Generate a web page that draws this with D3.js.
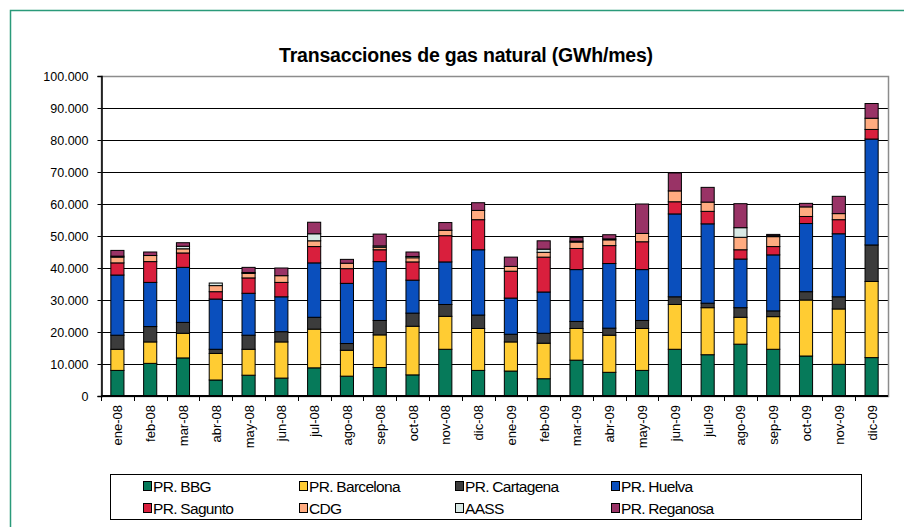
<!DOCTYPE html>
<html>
<head>
<meta charset="utf-8">
<script src="https://cdn.jsdelivr.net/npm/d3@7"></script>
<style>
  body { margin: 0; background: #fff; }
  svg { display: block; font-family: "Liberation Sans", Arial, sans-serif; }
</style>
</head>
<body>
<svg id="chart" width="904" height="527"></svg>
<script>
// months shown on the x axis
const months = ['ene-08', 'feb-08', 'mar-08', 'abr-08', 'may-08', 'jun-08', 'jul-08', 'ago-08',
  'sep-08', 'oct-08', 'nov-08', 'dic-08', 'ene-09', 'feb-09', 'mar-09', 'abr-09', 'may-09',
  'jun-09', 'jul-09', 'ago-09', 'sep-09', 'oct-09', 'nov-09', 'dic-09'];

const seriesNames = ['PR. BBG', 'PR. Barcelona', 'PR. Cartagena', 'PR. Huelva',
  'PR. Sagunto', 'CDG', 'AASS', 'PR. Reganosa'];

// GWh/mes
const bbg = [8000, 10200, 11900, 5000, 6500, 5600, 8800, 6200, 8900, 6600, 14600, 8000,
  7800, 5400, 11200, 7400, 8000, 14600, 12900, 16200, 14600, 12500, 9900, 12000];
const barcelona = [6600, 6700, 7700, 8300, 8100, 11300, 12100, 8100, 10200, 15200, 10300, 13100,
  9100, 11100, 9900, 11600, 13100, 14000, 14700, 8400, 10200, 17500, 17300, 23800];
const cartagena = [4400, 4800, 3400, 1300, 4400, 3200, 3700, 2100, 4500, 4100, 3700, 4200,
  2400, 3100, 2200, 2200, 2500, 2400, 1400, 3000, 1800, 2600, 3800, 11400];
const huelva = [18800, 13800, 17200, 15700, 13100, 10900, 17000, 18800, 18400, 10300, 13300, 20400,
  11300, 12900, 16200, 20200, 15900, 25900, 24800, 15200, 17500, 21300, 19700, 33100];
const sagunto = [3800, 6500, 4500, 2300, 4800, 4500, 5100, 4600, 3700, 5700, 8200, 9400,
  8400, 10900, 6600, 5600, 8700, 3800, 3900, 2900, 2600, 2200, 4400, 3000];
const cdg = [1800, 1900, 1300, 1900, 1400, 2100, 1800, 1700, 800, 1300, 1700, 2900,
  1500, 1500, 2000, 1800, 2600, 3400, 2900, 3900, 3100, 3000, 1900, 3500];
const aass = [300, 0, 800, 800, 300, 0, 2200, 0, 400, 400, 0, 0,
  0, 1000, 300, 300, 0, 0, 0, 3000, 300, 0, 0, 0];
const reganosa = [1800, 1100, 1100, 0, 1600, 2400, 3600, 1200, 3700, 1400, 2400, 2400,
  2900, 2600, 1100, 1300, 9200, 5600, 4600, 7500, 400, 1100, 5400, 4600];

const yTicks = [0, 10000, 20000, 30000, 40000, 50000, 60000, 70000, 80000, 90000, 100000];

const colors = ['#067a5a', '#ffcc33', '#3c3c3c', '#0a4fbd', '#d91f3d', '#ffab80', '#d8e9e5', '#993366'];

const allSeries = [bbg, barcelona, cartagena, huelva, sagunto, cdg, aass, reganosa];

const svg = d3.select('#chart');

// outer frame (only top and left edges are in view)
svg.append('path')
  .attr('d', 'M10.5,527 V10.5 H904')
  .attr('fill', 'none')
  .attr('stroke', '#2a9a7a')
  .attr('stroke-width', 1.5);

const margin = { top: 76, right: 16, bottom: 131, left: 101 };
const width = 904, height = 527;

const x = d3.scaleBand()
  .domain(months)
  .range([margin.left, width - margin.right])
  .paddingInner(0.6)
  .paddingOuter(0.3);

const y = d3.scaleLinear()
  .domain([0, 100000])
  .range([height - margin.bottom, margin.top]);

// title
svg.append('text')
  .attr('x', 466)
  .attr('y', 62)
  .attr('text-anchor', 'middle')
  .attr('font-size', 19.5)
  .attr('font-weight', 'bold')
  .attr('letter-spacing', -0.2)
  .text('Transacciones de gas natural (GWh/mes)');

// gridlines
svg.append('g')
  .selectAll('line')
  .data(yTicks.slice(1, -1))
  .enter().append('line')
  .attr('x1', margin.left)
  .attr('x2', width - margin.right)
  .attr('y1', d => Math.round(y(d)) + 0.5)
  .attr('y2', d => Math.round(y(d)) + 0.5)
  .attr('stroke', '#000')
  .attr('stroke-width', 1);

// plot area border
svg.append('rect')
  .attr('x', margin.left + 0.5)
  .attr('y', margin.top + 0.5)
  .attr('width', width - margin.right - margin.left)
  .attr('height', y(0) - margin.top)
  .attr('fill', 'none')
  .attr('stroke', '#8c8c8c')
  .attr('stroke-width', 1.5);

// stacked bars
const rows = months.map((m, i) => {
  const row = { month: m };
  seriesNames.forEach((s, k) => { row[s] = allSeries[k][i]; });
  return row;
});
const stacked = d3.stack().keys(seriesNames)(rows);

svg.append('g')
  .selectAll('g')
  .data(stacked)
  .enter().append('g')
  .attr('fill', (d, k) => colors[k])
  .selectAll('rect')
  .data(d => d.filter(p => p[1] - p[0] > 0))
  .enter().append('rect')
  .attr('x', d => x(d.data.month))
  .attr('width', x.bandwidth())
  .attr('y', d => y(d[1]))
  .attr('height', d => y(d[0]) - y(d[1]))
  .attr('stroke', '#000')
  .attr('stroke-width', 1);

// y axis
const yAxis = d3.axisLeft(y)
  .tickValues(yTicks)
  .tickSize(4)
  .tickPadding(9)
  .tickFormat(d => d3.format(',')(d).replace(/,/g, '.'));

const yAxisG = svg.append('g')
  .attr('transform', `translate(${margin.left + 0.5},0)`)
  .call(yAxis);
yAxisG.select('.domain').attr('stroke', '#000').attr('stroke-width', 1.5);
yAxisG.selectAll('text').attr('font-size', 12.5).attr('fill', '#000')
  .attr('font-family', '"Liberation Sans", Arial, sans-serif');

// x axis: ticks sit between categories
const xAxisG = svg.append('g')
  .attr('transform', `translate(0,${y(0)})`);
xAxisG.append('line')
  .attr('x1', margin.left)
  .attr('x2', width - margin.right)
  .attr('stroke', '#000')
  .attr('stroke-width', 2);
xAxisG.selectAll('.tick')
  .data(months)
  .enter().append('line')
  .attr('x1', (d, i) => Math.round(margin.left + x.step() * i) + 0.5)
  .attr('x2', (d, i) => Math.round(margin.left + x.step() * i) + 0.5)
  .attr('y1', 0)
  .attr('y2', 5)
  .attr('stroke', '#000');
xAxisG.selectAll('text')
  .data(months)
  .enter().append('text')
  .attr('transform', d => `translate(${x(d) + x.bandwidth() / 2 + 5},9) rotate(-90)`)
  .attr('text-anchor', 'end')
  .attr('font-size', 13)
  .text(d => d);

// legend
const legend = svg.append('g');
legend.append('rect')
  .attr('x', 110.5)
  .attr('y', 474.5)
  .attr('width', 751)
  .attr('height', 45)
  .attr('fill', '#fff')
  .attr('stroke', '#000');

const legendX = [143, 299, 455, 611];
const legendY = [486, 508];

const item = legend.selectAll('g.item')
  .data(seriesNames)
  .enter().append('g')
  .attr('class', 'item')
  .attr('transform', (d, i) => `translate(${legendX[i % 4]},${legendY[Math.floor(i / 4)]})`);

item.append('rect')
  .attr('x', 0.5)
  .attr('y', -4.5)
  .attr('width', 8)
  .attr('height', 9)
  .attr('fill', (d, i) => colors[i])
  .attr('stroke', '#000');

item.append('text')
  .attr('x', 10)
  .attr('y', 6)
  .attr('font-size', 15.5)
  .attr('letter-spacing', -0.7)
  .text(d => d);
</script>
</body>
</html>
